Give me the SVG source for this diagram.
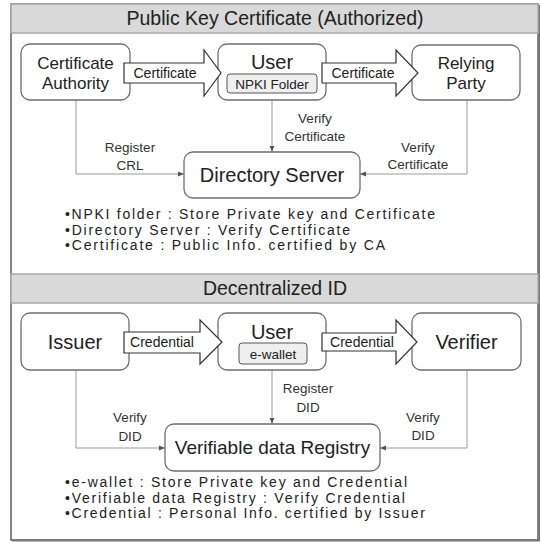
<svg xmlns="http://www.w3.org/2000/svg" width="541" height="542" viewBox="0 0 541 542">
<defs>
<style>
text{font-family:"Liberation Sans",Arial,sans-serif;fill:#222;}
.box{fill:#fff;stroke:#6e6e6e;stroke-width:1.3;}
.hdr{fill:#d9d9d9;stroke:#a8a8a8;stroke-width:1.5;}
.ht{font-size:19.5px;text-anchor:middle;}
.nt{font-size:17px;text-anchor:middle;}
.nb{font-size:20px;text-anchor:middle;}
.sub{fill:#efefef;stroke:#555;stroke-width:1;}
.st{font-size:13.5px;text-anchor:middle;}
.el{font-size:13.5px;text-anchor:middle;fill:#333;}
.big{fill:#fff;stroke:#333;stroke-width:1.2;}
.at{font-size:14px;text-anchor:middle;}
.ln{fill:none;stroke:#9a9a9a;stroke-width:1;}
.bl{font-size:14px;}
</style>
<marker id="ah" viewBox="0 0 10 10" refX="10" refY="5" markerWidth="6" markerHeight="6" orient="auto" markerUnits="userSpaceOnUse">
<path d="M0,1 L10,5 L0,9 z" fill="#555"/>
</marker>
</defs>
<rect x="0" y="0" width="541" height="542" fill="#fff"/>
<rect x="11" y="4" width="527" height="536" fill="#fff" stroke="#333" stroke-width="1.2"/>
<line x1="539" y1="5" x2="539" y2="541" stroke="#777" stroke-width="2"/>
<line x1="12" y1="540.5" x2="540" y2="540.5" stroke="#777" stroke-width="2"/>

<g id="header-pki">
<rect class="hdr" x="11" y="4" width="527" height="29"/>
<text class="ht" x="275" y="25">Public Key Certificate (Authorized)</text>
</g>
<g id="header-did">
<rect class="hdr" x="11" y="274" width="527" height="29"/>
<text class="ht" x="275" y="295">Decentralized ID</text>
</g>

<g id="connectors">
<path class="ln" d="M76,100 V174 H184" marker-end="url(#ah)"/>
<path class="ln" d="M272,100 V152" marker-end="url(#ah)"/>
<path class="ln" d="M467,100 V174 H360" marker-end="url(#ah)"/>
<path class="ln" d="M76,370 V448 H165" marker-end="url(#ah)"/>
<path class="ln" d="M272,370 V424" marker-end="url(#ah)"/>
<path class="ln" d="M467,370 V448 H380" marker-end="url(#ah)"/>
<text class="el" x="130" y="152">Register</text>
<text class="el" x="130" y="170">CRL</text>
<text class="el" x="315" y="123">Verify</text>
<text class="el" x="315" y="141">Certificate</text>
<text class="el" x="418" y="152">Verify</text>
<text class="el" x="418" y="169">Certificate</text>
<text class="el" x="130" y="422">Verify</text>
<text class="el" x="130" y="441">DID</text>
<text class="el" x="308" y="393">Register</text>
<text class="el" x="308" y="412">DID</text>
<text class="el" x="423" y="422">Verify</text>
<text class="el" x="423" y="440">DID</text>
</g>

<g id="ca">
<rect class="box" x="21" y="44" width="109" height="56" rx="9"/>
<text class="nt" x="75.5" y="69">Certificate</text>
<text class="nt" x="75.5" y="89">Authority</text>
</g>
<g id="user-pki">
<rect class="box" x="218" y="44" width="108" height="56" rx="9"/>
<text class="nb" x="272" y="69">User</text>
<rect class="sub" x="227" y="74" width="90" height="19" rx="3"/>
<text class="st" x="272" y="88.5">NPKI Folder</text>
</g>
<g id="relying-party">
<rect class="box" x="412" y="45" width="108" height="55" rx="9"/>
<text class="nt" x="466" y="69">Relying</text>
<text class="nt" x="466" y="89">Party</text>
</g>
<g id="directory-server">
<rect class="box" x="184" y="152" width="176" height="46" rx="9"/>
<text class="nb" x="272" y="182">Directory Server</text>
</g>

<g id="arrow-cert-1">
<polygon class="big" points="124,63 204,63 204,50 221,73 204,96 204,83 124,83"/>
<text class="at" x="165" y="78">Certificate</text>
</g>
<g id="arrow-cert-2">
<polygon class="big" points="322,63 396,63 396,50 418,73 396,96 396,83 322,83"/>
<text class="at" x="363" y="78">Certificate</text>
</g>

<g id="notes-pki">
<text class="bl" x="65" y="219" textLength="370" lengthAdjust="spacing">•NPKI folder : Store Private key and Certificate</text>
<text class="bl" x="65" y="234.6" textLength="285" lengthAdjust="spacing">•Directory Server : Verify Certificate</text>
<text class="bl" x="65" y="250.2" textLength="320" lengthAdjust="spacing">•Certificate : Public Info. certified by CA</text>
</g>

<g id="issuer">
<rect class="box" x="21" y="313" width="108" height="57" rx="9"/>
<text class="nb" x="75" y="349">Issuer</text>
</g>
<g id="user-did">
<rect class="box" x="218" y="313" width="108" height="57" rx="9"/>
<text class="nb" x="272" y="339">User</text>
<rect class="sub" x="239" y="343" width="68" height="21" rx="3"/>
<text class="st" x="273" y="358.5">e-wallet</text>
</g>
<g id="verifier">
<rect class="box" x="412" y="313" width="109" height="57" rx="9"/>
<text class="nb" x="466.5" y="349">Verifier</text>
</g>
<g id="registry">
<rect class="box" x="165" y="424" width="215" height="47" rx="9"/>
<text class="nb" x="272.5" y="454" style="font-size:19px">Verifiable data Registry</text>
</g>

<g id="arrow-cred-1">
<polygon class="big" points="124,332 200,332 200,320 222,342 200,364 200,353 124,353"/>
<text class="at" x="162" y="347">Credential</text>
</g>
<g id="arrow-cred-2">
<polygon class="big" points="322,333 396,333 396,320 417,342 396,364 396,351 322,351"/>
<text class="at" x="362" y="347">Credential</text>
</g>

<g id="notes-did">
<text class="bl" x="65" y="487" textLength="342" lengthAdjust="spacing">•e-wallet : Store Private key and Credential</text>
<text class="bl" x="65" y="502.6" textLength="340" lengthAdjust="spacing">•Verifiable data Registry : Verify Credential</text>
<text class="bl" x="65" y="518.2" textLength="360" lengthAdjust="spacing">•Credential : Personal Info. certified by Issuer</text>
</g>
</svg>
